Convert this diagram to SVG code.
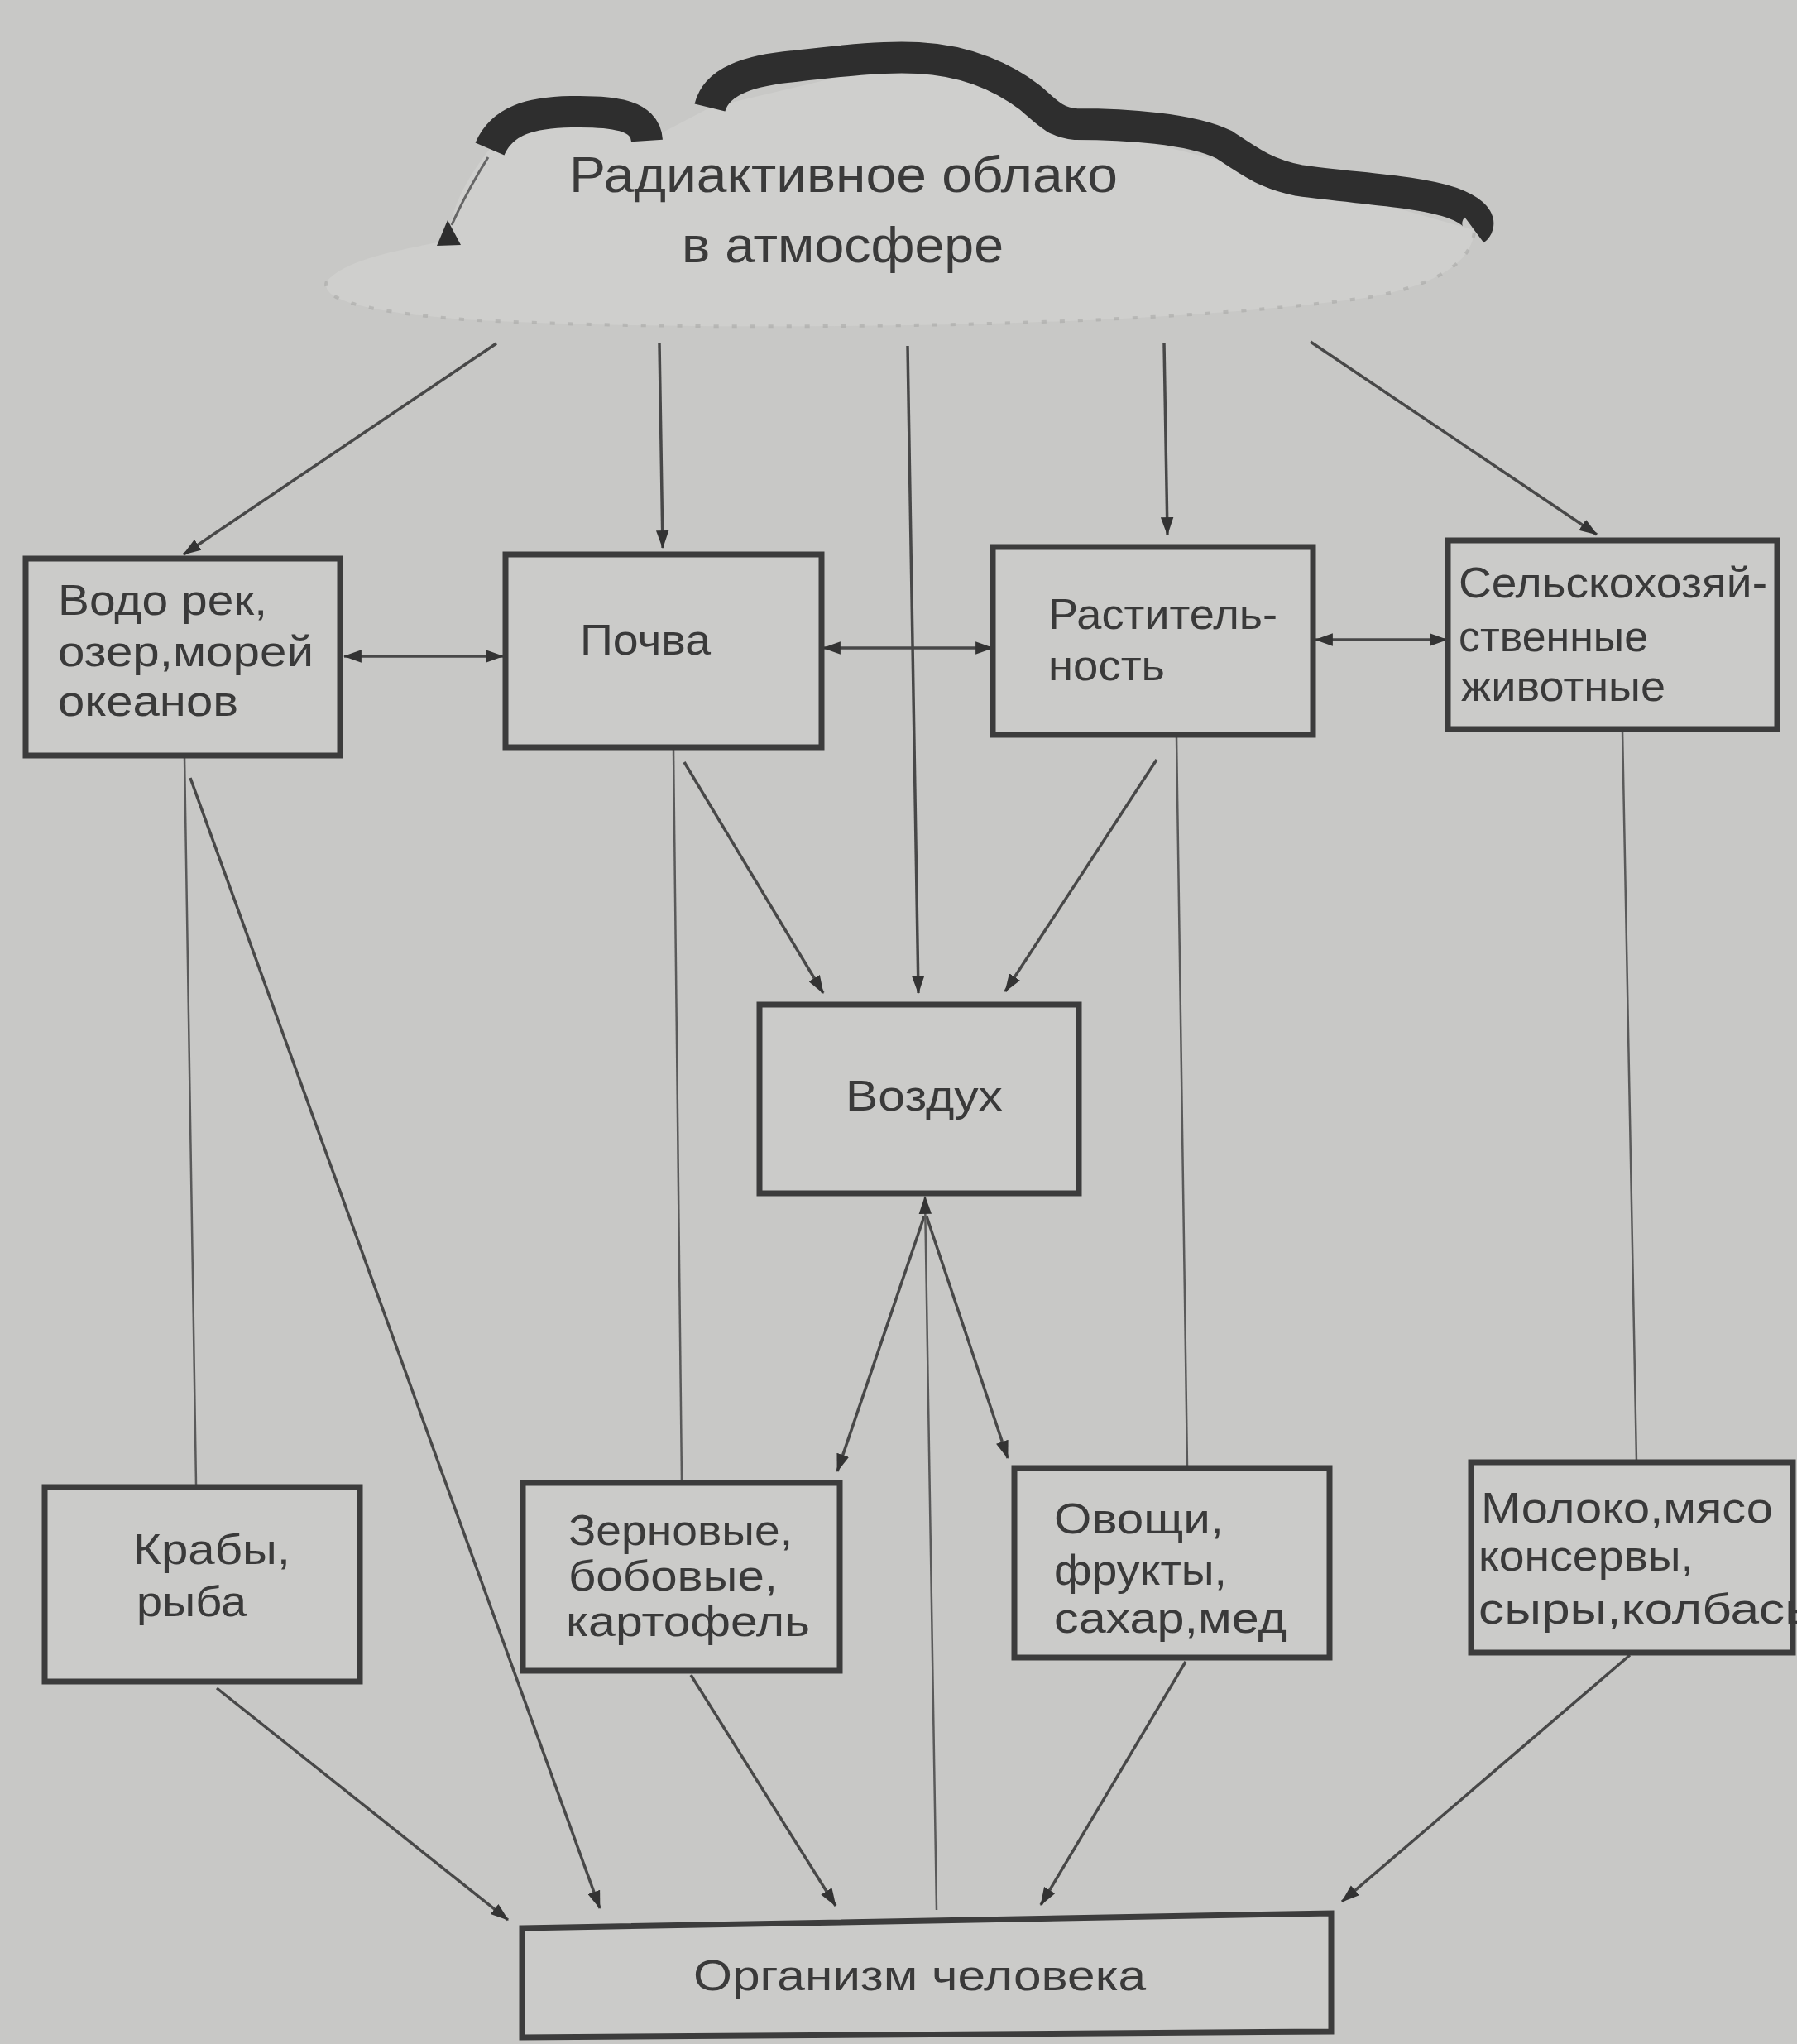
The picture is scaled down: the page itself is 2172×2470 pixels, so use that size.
<svg xmlns="http://www.w3.org/2000/svg" width="2172" height="2470" viewBox="0 0 2172 2470">
  <defs>
    <style>
      .bg { fill: #c8c8c6; }
      .box { fill: #cbcbc9; stroke: #3c3c3c; stroke-width: 7; }
      .lbl { font-family: "Liberation Sans", "DejaVu Sans", sans-serif; font-size: 52px; fill: #3a3a3a; }
      .big { font-size: 62px; }
      .link { fill: none; stroke: #484848; stroke-width: 3.5; }
      .thin { fill: none; stroke: #5a5a5a; stroke-width: 2.5; }
      .cloud-edge { fill: none; stroke: #2e2e2e; stroke-width: 38; stroke-linejoin: round; }
    </style>
    <marker id="arr" viewBox="0 0 20 14" refX="19" refY="7" markerWidth="22" markerHeight="16" markerUnits="userSpaceOnUse" orient="auto-start-reverse">
      <path d="M0,0 L20,7 L0,14 z" fill="#333333"/>
    </marker>
  </defs>

  <rect class="bg" x="0" y="0" width="2172" height="2470"/>

  <!-- radioactive cloud -->
  <g id="cloud">
    <path d="M592,180 C560,220 545,255 541,290 C500,300 420,310 395,340 C385,365 460,378 560,386 C700,394 900,396 1100,393 C1300,390 1500,380 1650,360 C1740,345 1780,315 1782,278 L1570,218 L1300,150 L1110,70 L858,130 L782,170 L690,135 Z" fill="#cfcfcd"/>
    <path d="M395,340 C385,365 460,378 560,386 C700,394 900,396 1100,393 C1300,390 1500,380 1650,360 C1740,345 1780,315 1782,278" fill="none" stroke="#a2a2a0" stroke-width="4" stroke-dasharray="6 16" opacity="0.5"/>
    <path class="cloud-edge" d="M592,180 C607,145 642,136 690,135 C740,134 780,138 782,170"/>
    <path class="cloud-edge" d="M858,130 C866,98 905,85 960,80 C1030,72 1070,68 1110,70 C1170,73 1215,95 1245,118 C1265,135 1275,148 1300,150 C1360,150 1440,155 1480,175 C1510,195 1530,210 1570,218 C1640,228 1710,230 1755,245 C1790,258 1790,272 1782,278"/>
    <path d="M590,190 Q562,235 546,272" fill="none" stroke="#666" stroke-width="3"/>
    <polygon points="541,266 528,297 557,296" fill="#2e2e2e"/>
    <text class="lbl big" x="688" y="232" textLength="663" lengthAdjust="spacingAndGlyphs">Радиактивное облако</text>
    <text class="lbl big" x="824" y="317" textLength="389" lengthAdjust="spacingAndGlyphs">в атмосфере</text>
  </g>

  <!-- connectors -->
  <g id="connectors">
    <!-- from the cloud -->
    <line class="link" x1="600" y1="415" x2="222" y2="670" marker-end="url(#arr)"/>
    <line class="link" x1="797" y1="415" x2="801" y2="662" marker-end="url(#arr)"/>
    <line class="link" x1="1097" y1="418" x2="1110" y2="1200" marker-end="url(#arr)"/>
    <line class="link" x1="1407" y1="415" x2="1411" y2="646" marker-end="url(#arr)"/>
    <line class="link" x1="1584" y1="413" x2="1930" y2="646" marker-end="url(#arr)"/>

    <!-- two-way links between the upper boxes -->
    <line class="link" x1="416" y1="793" x2="608" y2="793" marker-start="url(#arr)" marker-end="url(#arr)"/>
    <line class="link" x1="995" y1="783" x2="1200" y2="783" marker-start="url(#arr)" marker-end="url(#arr)"/>
    <line class="link" x1="1590" y1="773" x2="1749" y2="773" marker-start="url(#arr)" marker-end="url(#arr)"/>

    <!-- plain verticals down to the food boxes -->
    <line class="thin" x1="223" y1="914" x2="237" y2="1794"/>
    <line class="thin" x1="814" y1="905" x2="824" y2="1790"/>
    <line class="thin" x1="1422" y1="890" x2="1435" y2="1772"/>
    <line class="thin" x1="1961" y1="882" x2="1978" y2="1766"/>

    <!-- into the air box -->
    <line class="link" x1="827" y1="921" x2="995" y2="1200" marker-end="url(#arr)"/>
    <line class="link" x1="1398" y1="918" x2="1215" y2="1198" marker-end="url(#arr)"/>

    <!-- out of the air box -->
    <line class="link" x1="1117" y1="1470" x2="1012" y2="1778" marker-end="url(#arr)"/>
    <line class="link" x1="1120" y1="1470" x2="1218" y2="1762" marker-end="url(#arr)"/>
    <line class="thin" x1="1132" y1="2308" x2="1118" y2="1446" marker-end="url(#arr)"/>

    <!-- into the human body -->
    <line class="link" x1="230" y1="940" x2="725" y2="2306" marker-end="url(#arr)"/>
    <line class="link" x1="262" y1="2040" x2="614" y2="2320" marker-end="url(#arr)"/>
    <line class="link" x1="835" y1="2024" x2="1010" y2="2303" marker-end="url(#arr)"/>
    <line class="link" x1="1433" y1="2008" x2="1258" y2="2302" marker-end="url(#arr)"/>
    <line class="link" x1="1970" y1="2000" x2="1622" y2="2298" marker-end="url(#arr)"/>
  </g>

  <!-- upper row -->
  <g id="water">
    <rect class="box" x="31" y="675" width="380" height="238"/>
    <text class="lbl" x="70" y="743" textLength="253" lengthAdjust="spacingAndGlyphs">Водо рек,</text>
    <text class="lbl" x="70" y="805" textLength="309" lengthAdjust="spacingAndGlyphs">озер,морей</text>
    <text class="lbl" x="70" y="865" textLength="218" lengthAdjust="spacingAndGlyphs">океанов</text>
  </g>
  <g id="soil">
    <rect class="box" x="611" y="670" width="382" height="233"/>
    <text class="lbl" x="701" y="791" textLength="158" lengthAdjust="spacingAndGlyphs">Почва</text>
  </g>
  <g id="plants">
    <rect class="box" x="1200" y="661" width="387" height="227"/>
    <text class="lbl" x="1267" y="760" textLength="277" lengthAdjust="spacingAndGlyphs">Раститель-</text>
    <text class="lbl" x="1267" y="822" textLength="141" lengthAdjust="spacingAndGlyphs">ность</text>
  </g>
  <g id="livestock">
    <rect class="box" x="1750" y="653" width="398" height="228"/>
    <text class="lbl" x="1763" y="722" textLength="373" lengthAdjust="spacingAndGlyphs">Сельскохозяй-</text>
    <text class="lbl" x="1763" y="787" textLength="229" lengthAdjust="spacingAndGlyphs">ственные</text>
    <text class="lbl" x="1766" y="847" textLength="247" lengthAdjust="spacingAndGlyphs">животные</text>
  </g>

  <!-- middle -->
  <g id="air">
    <rect class="box" x="918" y="1214" width="386" height="228"/>
    <text class="lbl" x="1022" y="1342" textLength="190" lengthAdjust="spacingAndGlyphs">Воздух</text>
  </g>

  <!-- food row -->
  <g id="fish">
    <rect class="box" x="54" y="1797" width="381" height="235"/>
    <text class="lbl" x="161" y="1890" textLength="190" lengthAdjust="spacingAndGlyphs">Крабы,</text>
    <text class="lbl" x="165" y="1953" textLength="133" lengthAdjust="spacingAndGlyphs">рыба</text>
  </g>
  <g id="grain">
    <rect class="box" x="632" y="1792" width="383" height="227"/>
    <text class="lbl" x="687" y="1867" textLength="271" lengthAdjust="spacingAndGlyphs">Зерновые,</text>
    <text class="lbl" x="687" y="1922" textLength="253" lengthAdjust="spacingAndGlyphs">бобовые,</text>
    <text class="lbl" x="684" y="1977" textLength="295" lengthAdjust="spacingAndGlyphs">картофель</text>
  </g>
  <g id="vegetables">
    <rect class="box" x="1226" y="1774" width="381" height="229"/>
    <text class="lbl" x="1274" y="1853" textLength="205" lengthAdjust="spacingAndGlyphs">Овощи,</text>
    <text class="lbl" x="1274" y="1915" textLength="209" lengthAdjust="spacingAndGlyphs">фрукты,</text>
    <text class="lbl" x="1274" y="1973" textLength="281" lengthAdjust="spacingAndGlyphs">сахар,мед</text>
  </g>
  <g id="dairy">
    <rect class="box" x="1778" y="1767" width="389" height="230"/>
    <text class="lbl" x="1790" y="1840" textLength="353" lengthAdjust="spacingAndGlyphs">Молоко,мясо</text>
    <text class="lbl" x="1787" y="1898" textLength="260" lengthAdjust="spacingAndGlyphs">консервы,</text>
    <text class="lbl" x="1787" y="1962" textLength="415" lengthAdjust="spacingAndGlyphs">сыры,колбасы</text>
  </g>

  <!-- bottom -->
  <g id="human">
    <polygon class="box" points="631,2330 1609,2312 1609,2455 631,2462"/>
    <text class="lbl" x="838" y="2405" textLength="547" lengthAdjust="spacingAndGlyphs">Организм человека</text>
  </g>
</svg>
